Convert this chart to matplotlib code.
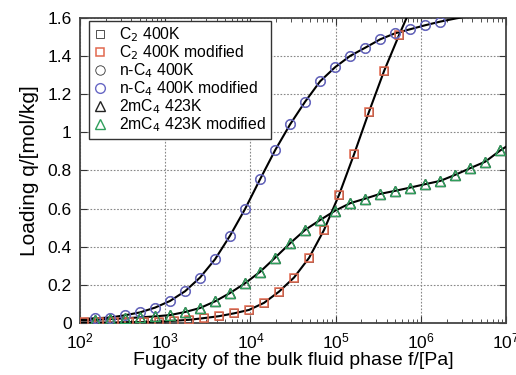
import matplotlib
matplotlib.use("Agg")
import matplotlib.pyplot as plt
from matplotlib.ticker import LogLocator, NullFormatter

plt.rcParams['font.family'] = ['Liberation Sans', 'DejaVu Sans']

# fugacities [Pa]
f_c2 = [111, 167, 250, 375, 563, 844, 1266, 1898, 2848, 4271, 6407, 9611,
        14416, 21624, 32436, 48654, 72981, 109471, 164207, 246311, 369466, 554199]
q_c2 = [0.002, 0.002, 0.002, 0.004, 0.004, 0.006, 0.011, 0.016, 0.025, 0.035, 0.050, 0.068,
        0.105, 0.164, 0.238, 0.341, 0.488, 0.672, 0.885, 1.109, 1.322, 1.511]

f_c4 = [150, 225, 338, 506, 759, 1139, 1709, 2563, 3844, 5767, 8650, 12975,
        19462, 29193, 43789, 65684, 98526, 147789, 221684, 332526, 498789, 748183,
        1122274, 1683411]
q_c4 = [0.024, 0.028, 0.040, 0.055, 0.080, 0.115, 0.166, 0.238, 0.334, 0.458, 0.598, 0.754,
        0.906, 1.042, 1.161, 1.268, 1.342, 1.401, 1.444, 1.488, 1.520, 1.541,
        1.562, 1.581]

f_2mc4 = [150, 225, 338, 506, 759, 1139, 1709, 2563, 3844, 5767, 8650, 12975,
          19462, 29193, 43789, 65684, 98526, 147789, 221684, 332526, 498789, 748183,
          1122274, 1683411, 2525117, 3787675, 5681513, 8522269]
q_2mc4 = [0.016, 0.020, 0.024, 0.029, 0.034, 0.041, 0.057, 0.078, 0.113, 0.157, 0.208, 0.268,
          0.342, 0.418, 0.488, 0.540, 0.589, 0.628, 0.652, 0.677, 0.693, 0.710,
          0.728, 0.745, 0.777, 0.812, 0.846, 0.905]

# fitted isotherms (run past the last simulated point)
fit_f_c2 = [100] + f_c2 + [831299]
fit_q_c2 = [0.0] + q_c2 + [1.69]
fit_f_c4 = [100] + f_c4 + [2525117, 3787675]
fit_q_c4 = [0.02] + q_c4 + [1.597, 1.612]
fit_f_2mc4 = [100] + f_2mc4 + [1e7]
fit_q_2mc4 = [0.013] + q_2mc4 + [0.925]

y_ticks = [0, 0.2, 0.4, 0.6, 0.8, 1.0, 1.2, 1.4, 1.6]
y_labels = ['0', '0.2', '0.4', '0.6', '0.8', '1', '1.2', '1.4', '1.6']

red = '#e2684e'
blue = '#6767c4'
green = '#2f9f5c'

fig = plt.figure(figsize=(5.16, 3.75), dpi=100)
ax = fig.add_axes([0.155, 0.139, 0.826, 0.813])

for ff, qq in [(fit_f_c2, fit_q_c2), (fit_f_c4, fit_q_c4), (fit_f_2mc4, fit_q_2mc4)]:
    ax.plot(ff, qq, color='black', lw=1.5, zorder=3)

ms = 6.8
ax.plot(f_c2, q_c2, ls='none', marker='s', ms=ms - 0.4, mfc='none', mec='#333333', mew=0.6,
        label='C$_2$ 400K', zorder=4)
ax.plot(f_c2, q_c2, ls='none', marker='s', ms=ms - 0.4, mfc='none', mec=red, mew=1.1,
        label='C$_2$ 400K modified', zorder=5)
ax.plot(f_c4, q_c4, ls='none', marker='o', ms=ms, mfc='none', mec='#333333', mew=0.6,
        label='n-C$_4$ 400K', zorder=4)
ax.plot(f_c4, q_c4, ls='none', marker='o', ms=ms + 0.2, mfc='none', mec=blue, mew=1.0,
        label='n-C$_4$ 400K modified', zorder=5)
ax.plot(f_2mc4, q_2mc4, ls='none', marker='^', ms=ms, mfc='none', mec='#222222', mew=1.0,
        label='2mC$_4$ 423K', zorder=4)
ax.plot(f_2mc4, q_2mc4, ls='none', marker='^', ms=ms + 0.3, mfc='none', mec=green, mew=1.0,
        label='2mC$_4$ 423K modified', zorder=5)

ax.set_xscale('log')
ax.set_xlim(1e2, 1e7)
ax.xaxis.set_major_locator(LogLocator(base=10, numticks=10))
ax.xaxis.set_minor_locator(LogLocator(base=10, subs=range(2, 10), numticks=20))
ax.xaxis.set_minor_formatter(NullFormatter())
ax.set_yticks(y_ticks)
ax.set_yticklabels(y_labels)
ax.set_ylim(0, 1.6)
ax.tick_params(which='both', direction='in', top=True, right=True, labelsize=12.5, colors='#333333')
ax.tick_params(which='major', length=5, width=0.8, labelcolor='black')
ax.tick_params(which='minor', length=3, width=0.6)
ax.tick_params(axis='x', pad=6)
ax.tick_params(axis='y', pad=6)

ax.grid(True, which='major', ls=(0, (1.5, 1.5)), color='#888888', lw=0.8)
for sp in ax.spines.values():
    sp.set_linewidth(1.3)
    sp.set_color('#444444')

ax.set_xlabel('Fugacity of the bulk fluid phase f/[Pa]', fontsize=14, labelpad=1)
ax.set_ylabel('Loading q/[mol/kg]', fontsize=15, labelpad=6)

leg = ax.legend(loc='upper left', bbox_to_anchor=(0.022, 0.99), fontsize=11.3,
                handlelength=0.8, handletextpad=0.8,
                labelspacing=-0.05, borderpad=0.3, borderaxespad=0.0,
                fancybox=False, framealpha=1, edgecolor='#333333')
leg.get_frame().set_linewidth(1.0)

fig.savefig('out.png', dpi=100)
